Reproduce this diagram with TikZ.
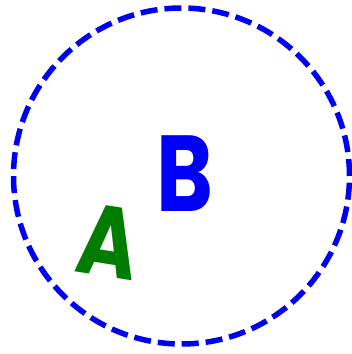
\documentclass[tikz,border=0pt]{standalone}
\usepackage{fontspec}
\newfontfamily\letterfont{Poppins}
\definecolor{dashblue}{RGB}{0,0,245}
\definecolor{agreen}{RGB}{0,125,0}
\begin{document}
\begin{tikzpicture}[x=1pt,y=1pt,
  ring/.style={draw=dashblue,line width=5.5pt,dash pattern=on 17pt off 7pt},
  letter/.style={inner sep=0pt,font=\letterfont\bfseries\fontsize{100}{100}\selectfont}]
\useasboundingbox (0,0) rectangle (352,354);
\draw[ring] (181.5,178) circle (168);
\node[letter,text=agreen,rotate=-9,xscale=0.82] (A) at (109,112) {A};
\node[letter,text=dashblue,xscale=0.8,font=\letterfont\bfseries\fontsize{108}{108}\selectfont] (B) at (185,180) {B};
\end{tikzpicture}
\end{document}
